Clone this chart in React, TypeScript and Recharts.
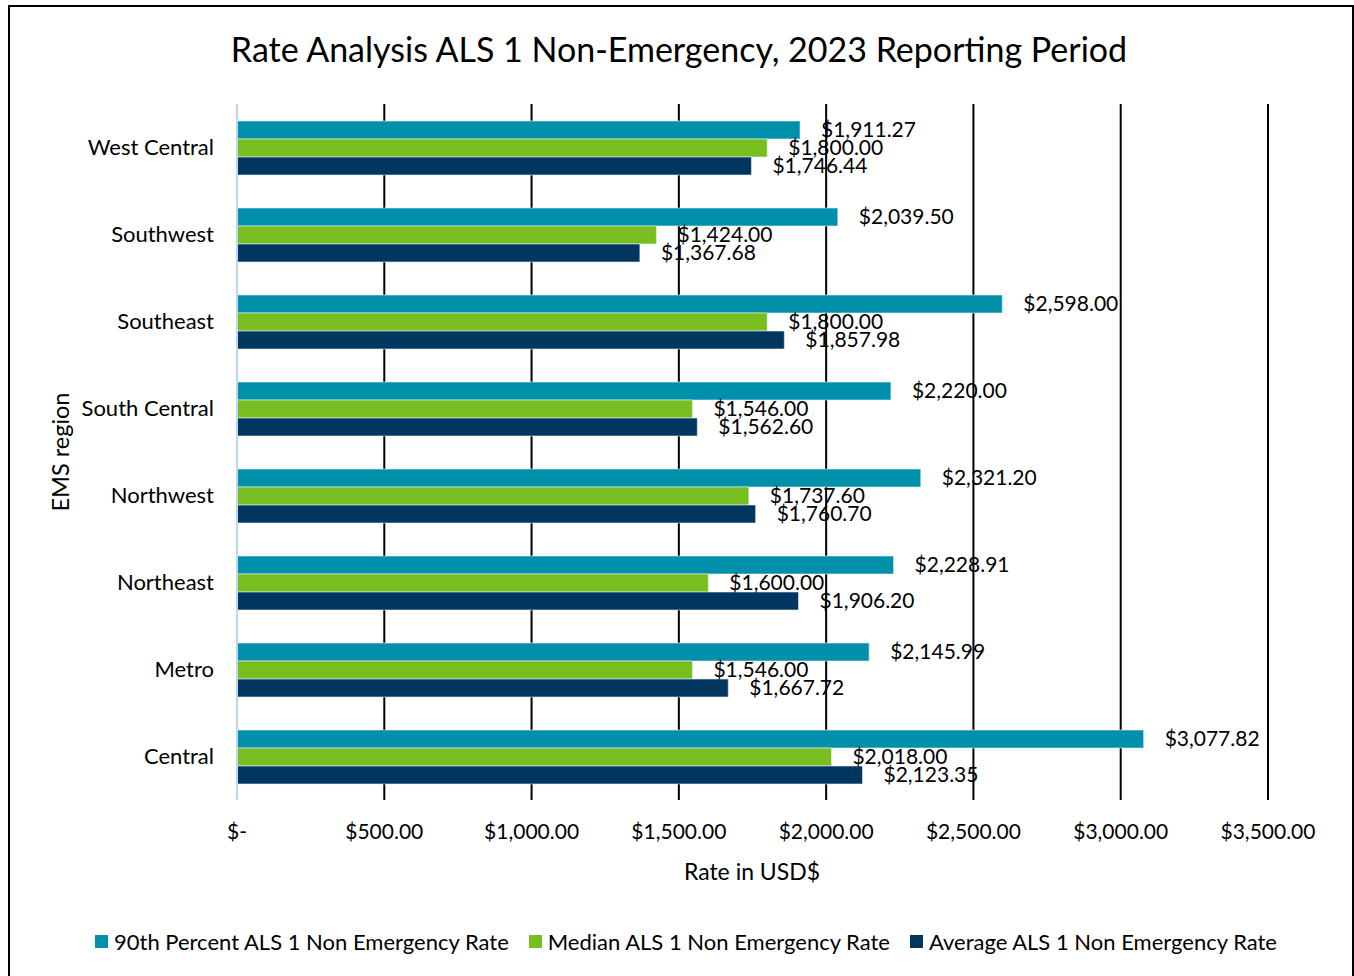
import { BarChart, Bar, XAxis, YAxis, CartesianGrid, LabelList } from 'recharts';

const regions = ['West Central', 'Southwest', 'Southeast', 'South Central', 'Northwest', 'Northeast', 'Metro', 'Central'];
const pct90 = [1911.27, 2039.5, 2598.0, 2220.0, 2321.2, 2228.91, 2145.99, 3077.82];
const median = [1800.0, 1424.0, 1800.0, 1546.0, 1737.6, 1600.0, 1546.0, 2018.0];
const average = [1746.44, 1367.68, 1857.98, 1562.6, 1760.7, 1906.2, 1667.72, 2123.35];
const xTicks = [0, 500, 1000, 1500, 2000, 2500, 3000, 3500];

const series = [
  { key: 'pct90', name: '90th Percent ALS 1 Non Emergency Rate', color: '#0090AA' },
  { key: 'median', name: 'Median ALS 1 Non Emergency Rate', color: '#78BE20' },
  { key: 'average', name: 'Average ALS 1 Non Emergency Rate', color: '#003660' },
];

const data = regions.map((r, i) => ({ region: r, pct90: pct90[i], median: median[i], average: average[i] }));

const FONT = 'Lato, "Open Sans", sans-serif';

const money = (v: number) =>
  v === 0 ? '$-' : '$' + v.toLocaleString('en-US', { minimumFractionDigits: 2, maximumFractionDigits: 2 });

export default function App() {
  return (
    <div style={{ position: 'absolute', left: 0, top: 0, width: 1354, height: 976, background: '#fff', fontFamily: FONT, overflow: 'hidden' }}>
      <div style={{ position: 'absolute', left: 8, top: 5, width: 1342, height: 980, border: '2px solid #000' }} />
      <div style={{ position: 'absolute', left: 679, top: 48, transform: 'translate(-50%, -50%)', fontSize: 34, color: '#000', whiteSpace: 'nowrap' }}>
        Rate Analysis ALS 1 Non-Emergency, 2023 Reporting Period
      </div>
      <div style={{ position: 'absolute', left: 60, top: 452, transform: 'translate(-50%, -50%) rotate(-90deg)', fontSize: 23.5, whiteSpace: 'nowrap' }}>
        EMS region
      </div>
      <div style={{ position: 'absolute', left: 752, top: 871, transform: 'translate(-50%, -50%)', fontSize: 23, whiteSpace: 'nowrap' }}>
        Rate in USD$
      </div>
      <BarChart
        width={1354}
        height={976}
        data={data}
        layout="vertical"
        margin={{ top: 104, right: 86, bottom: 116, left: 0 }}
        barGap={0}
        barSize={18}
        style={{ position: 'absolute', left: 0, top: 0 }}
      >
        <CartesianGrid horizontal={false} verticalValues={xTicks.slice(1)} stroke="#000" strokeWidth={2} />
        <XAxis
          type="number"
          domain={[0, 3500]}
          ticks={xTicks}
          tickFormatter={money}
          axisLine={false}
          tickLine={false}
          tickSize={0}
          tickMargin={24}
          height={60}
          tick={{ fill: '#000', fontSize: 21, fontFamily: FONT }}
        />
        <YAxis
          type="category"
          dataKey="region"
          width={237}
          axisLine={{ stroke: '#BDD7EE', strokeWidth: 2 }}
          tickLine={false}
          tickSize={0}
          tickMargin={23}
          tick={{ fill: '#000', fontSize: 22, fontFamily: FONT }}
        />
        {series.map((s) => (
          <Bar key={s.key} dataKey={s.key} name={s.name} fill={s.color} stroke="#E6F0F5" strokeWidth={0.6} isAnimationActive={false}>
            <LabelList dataKey={s.key} position="right" offset={21} formatter={(v: any) => money(Number(v))} fill="#000" fontSize={21} fontFamily={FONT} />
          </Bar>
        ))}
      </BarChart>
      <div style={{ position: 'absolute', left: 95, top: 928, display: 'flex', fontSize: 22, whiteSpace: 'nowrap' }}>
        {series.map((s) => (
          <div key={s.key} style={{ display: 'flex', alignItems: 'center', marginRight: 20 }}>
            <span style={{ display: 'inline-block', width: 13, height: 13, background: s.color, marginRight: 6 }} />
            <span>{s.name}</span>
          </div>
        ))}
      </div>
    </div>
  );
}
